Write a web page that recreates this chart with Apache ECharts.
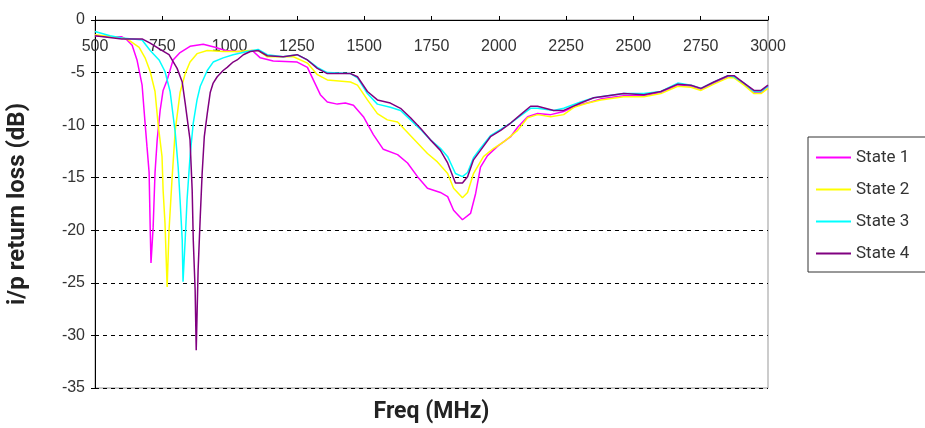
<!DOCTYPE html>
<html>
<head>
<meta charset="utf-8">
<script src="https://cdn.jsdelivr.net/npm/echarts@6/dist/echarts.min.js"></script>
<style>html,body{margin:0;padding:0;background:#fff;}#c{width:925px;height:428px;}</style>
</head>
<body>
<div id="c"></div>
<script>
var seriesNames = ['State 1', 'State 2', 'State 3', 'State 4'];
var freq1 = [500,556,600,619,638,656,675,686,693,701,705,708,716,723,731,742,753,768,790,816,853,902,946,984,1028,1065,1084,1114,1162,1251,1289,1311,1337,1363,1400,1430,1460,1497,1534,1571,1624,1661,1698,1735,1783,1810,1832,1865,1895,1914,1932,1958,1996,2044,2070,2107,2144,2193,2241,2293,2342,2379,2464,2539,2602,2665,2714,2751,2799,2851,2874,2911,2948,2974,3000];
var loss1 = [-1.5,-1.6,-1.6,-1.9,-2.4,-3.8,-6.2,-9.8,-12.0,-14.5,-19.7,-23.1,-19.7,-14.5,-11.4,-8.6,-6.7,-5.7,-3.8,-3.1,-2.5,-2.3,-2.6,-2.9,-3.0,-3.0,-2.9,-3.6,-3.9,-4.0,-4.5,-5.7,-7.1,-7.8,-8.0,-7.9,-8.1,-9.2,-10.9,-12.3,-12.8,-13.6,-14.9,-16.0,-16.4,-16.8,-18.1,-19.0,-18.4,-16.5,-14.0,-12.9,-12.0,-11.1,-10.2,-9.2,-8.9,-9.0,-8.7,-8.1,-7.8,-7.5,-7.2,-7.2,-6.9,-6.2,-6.3,-6.6,-6.0,-5.4,-5.4,-6.1,-6.9,-6.9,-6.3];
var freq2 = [500,600,619,664,686,705,723,734,749,753,760,768,775,786,798,816,835,853,879,917,976,1028,1077,1106,1140,1237,1289,1326,1363,1449,1475,1512,1549,1586,1624,1661,1698,1735,1772,1810,1832,1865,1884,1906,1943,1981,2018,2070,2107,2144,2193,2241,2279,2331,2379,2464,2539,2602,2665,2714,2751,2799,2851,2874,2911,2948,2974,3000];
var loss2 = [-1.4,-1.7,-1.8,-2.6,-3.6,-4.9,-6.8,-9.8,-13.0,-16.2,-19.3,-25.4,-20.0,-15.2,-10.5,-6.9,-5.1,-4.0,-3.2,-2.9,-3.0,-3.0,-2.9,-2.9,-3.5,-3.5,-4.1,-5.2,-5.7,-5.9,-6.2,-7.6,-8.9,-9.5,-9.7,-10.7,-11.7,-12.7,-13.5,-14.6,-16.0,-16.9,-16.4,-14.6,-13.0,-12.2,-11.6,-10.5,-9.3,-9.0,-9.2,-9.0,-8.3,-7.9,-7.6,-7.3,-7.3,-7.0,-6.3,-6.4,-6.7,-6.1,-5.5,-5.5,-6.2,-7.0,-7.0,-6.5];
var freq3 = [500,556,600,675,705,738,760,779,798,809,816,824,827,835,842,853,865,879,891,917,939,976,1013,1065,1106,1140,1199,1251,1289,1326,1363,1449,1475,1512,1549,1597,1635,1672,1709,1746,1783,1810,1839,1865,1884,1906,1932,1969,2007,2044,2081,2118,2144,2204,2241,2304,2353,2379,2464,2539,2602,2665,2714,2751,2799,2851,2874,2911,2948,2974,3000];
var loss3 = [-1.1,-1.5,-1.7,-1.9,-2.9,-3.8,-4.9,-6.8,-10.7,-14.0,-17.1,-20.9,-24.9,-20.9,-17.1,-13.0,-9.8,-7.6,-6.3,-4.8,-4.0,-3.6,-3.3,-3.0,-2.8,-3.3,-3.5,-3.3,-3.8,-4.5,-5.0,-5.1,-5.5,-7.0,-8.0,-8.3,-8.6,-9.5,-10.4,-11.4,-12.2,-13.0,-14.6,-14.9,-14.5,-13.1,-12.2,-11.0,-10.4,-9.8,-9.1,-8.4,-8.4,-8.6,-8.4,-7.8,-7.4,-7.3,-7.0,-7.0,-6.8,-6.0,-6.2,-6.5,-5.9,-5.3,-5.4,-6.0,-6.8,-6.8,-6.3];
var freq4 = [500,600,675,705,742,775,805,824,835,853,861,865,872,876,883,891,898,906,917,928,939,954,976,991,1013,1028,1051,1077,1106,1140,1199,1251,1289,1326,1363,1449,1475,1512,1549,1597,1635,1672,1709,1746,1783,1810,1839,1865,1884,1906,1932,1969,2007,2044,2081,2118,2144,2204,2241,2304,2353,2379,2464,2539,2602,2665,2714,2751,2799,2851,2874,2911,2948,2974,3000];
var loss4 = [-1.5,-1.8,-1.8,-2.2,-2.8,-3.3,-4.6,-5.9,-7.9,-11.4,-16.2,-20.9,-25.7,-31.4,-23.8,-18.7,-14.6,-11.1,-8.9,-6.9,-6.0,-5.4,-4.8,-4.5,-4.0,-3.8,-3.3,-3.0,-2.9,-3.4,-3.5,-3.3,-3.8,-4.6,-5.1,-5.1,-5.4,-6.8,-7.6,-7.9,-8.4,-9.3,-10.3,-11.4,-12.4,-13.6,-15.5,-15.5,-14.9,-13.3,-12.4,-11.1,-10.5,-9.8,-9.0,-8.2,-8.2,-8.6,-8.6,-7.9,-7.4,-7.3,-7.0,-7.1,-6.8,-6.1,-6.2,-6.5,-5.9,-5.3,-5.3,-6.0,-6.7,-6.7,-6.2];
var colors = ['#ff00ff', '#ffff00', '#00ffff', '#800080'];
var xTicks = [500, 750, 1000, 1250, 1500, 1750, 2000, 2250, 2500, 2750, 3000];
var yTicks = [0, -5, -10, -15, -20, -25, -30, -35];

function pairs(f, v) { return f.map(function (x, i) { return [x, v[i]]; }); }
var freqs = [freq1, freq2, freq3, freq4];
var losses = [loss1, loss2, loss3, loss4];

var chart = echarts.init(document.getElementById('c'), null, { renderer: 'canvas' });
var font = 'Roboto, "Liberation Sans", Arial, sans-serif';
var tickFont = '"Liberation Sans", Arial, sans-serif';
chart.setOption({
  animation: false,
  backgroundColor: '#fff',
  grid: { left: 95, top: 20, right: 157, bottom: 40, containLabel: false, outerBoundsMode: 'none',
    show: true, borderColor: '#999', borderWidth: 1, backgroundColor: '#fff' },
  legend: {
    orient: 'vertical', left: 808, top: 137,
    data: seriesNames,
    icon: 'rect', itemWidth: 35, itemHeight: 2, itemGap: 13,
    padding: [11, 40, 9, 8],
    borderColor: '#333', borderWidth: 1,
    textStyle: { fontFamily: font, fontSize: 17, color: '#333', lineHeight: 19 }
  },
  xAxis: {
    type: 'value', position: 'top', min: xTicks[0], max: xTicks[xTicks.length - 1], interval: 250,
    name: 'Freq (MHz)', nameLocation: 'middle', nameGap: -404,
    nameTextStyle: { fontFamily: font, fontSize: 23, fontWeight: 'bold', color: '#222' },
    axisLine: { show: true, lineStyle: { color: '#000', width: 1 } },
    axisTick: { show: true, inside: false, length: 4, lineStyle: { color: '#000' } },
    axisLabel: { inside: true, margin: 19, fontFamily: tickFont, fontSize: 16, color: '#333',
      formatter: function (v) { return String(v); } },
    splitLine: { show: false }
  },
  yAxis: [{
    type: 'value', min: yTicks[yTicks.length - 1], max: yTicks[0], interval: 5,
    name: 'i/p return loss (dB)', nameLocation: 'middle', nameGap: 65, nameRotate: 90,
    nameTextStyle: { fontFamily: font, fontSize: 24, fontWeight: 'bold', color: '#222' },
    axisLine: { show: true, lineStyle: { color: '#000', width: 1 } },
    axisTick: { show: true, inside: false, length: 4, lineStyle: { color: '#000' } },
    axisLabel: { margin: 10, fontFamily: tickFont, fontSize: 16, color: '#333' },
    splitLine: { show: true, lineStyle: { color: '#000', width: 1, type: [4, 4] } }
  }, {
    type: 'value', min: yTicks[yTicks.length - 1], max: yTicks[0], interval: 5, position: 'left',
    axisLine: { show: false }, axisLabel: { show: false }, splitLine: { show: false },
    axisTick: { show: true, inside: true, length: 4, lineStyle: { color: '#000' } }
  }],
  series: seriesNames.map(function (n, i) {
    return {
      name: n, type: 'line', yAxisIndex: 0, showSymbol: false, symbol: 'none',
      data: pairs(freqs[i], losses[i]),
      lineStyle: { color: colors[i], width: 1.5 },
      itemStyle: { color: colors[i] }
    };
  })
});
</script>
</body>
</html>
